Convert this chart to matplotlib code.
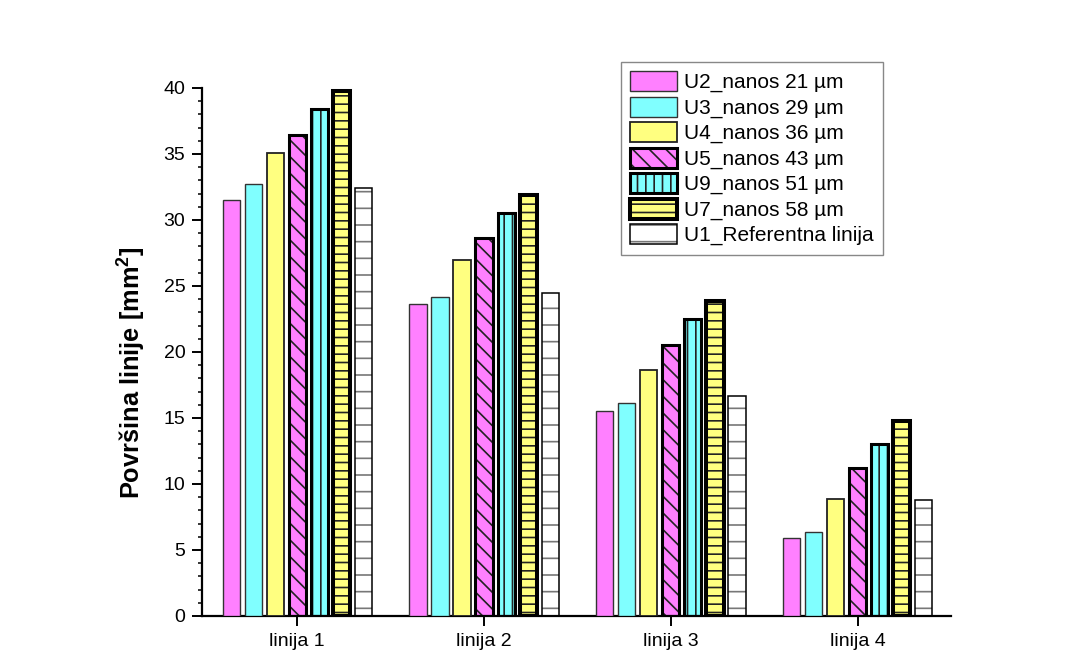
import numpy as np
import matplotlib
matplotlib.use("Agg")
import matplotlib.pyplot as plt
from matplotlib.ticker import MultipleLocator

plt.rcParams["font.family"] = ["Liberation Sans", "DejaVu Sans"]
plt.rcParams["mathtext.fontset"] = "custom"
plt.rcParams["mathtext.rm"] = "Liberation Sans"
plt.rcParams["mathtext.bf"] = "Liberation Sans:bold"
plt.rcParams["hatch.linewidth"] = 1.2

# ---------------------------------------------------------------------------
# Data
# ---------------------------------------------------------------------------
categories = ["linija 1", "linija 2", "linija 3", "linija 4"]
series_names = [
    "U2_nanos 21 µm",
    "U3_nanos 29 µm",
    "U4_nanos 36 µm",
    "U5_nanos 43 µm",
    "U9_nanos 51 µm",
    "U7_nanos 58 µm",
    "U1_Referentna linija",
]
u2 = [31.5, 23.6, 15.5, 5.9]
u3 = [32.7, 24.2, 16.1, 6.4]
u4 = [35.1, 27.0, 18.6, 8.9]
u5 = [36.4, 28.6, 20.5, 11.2]
u9 = [38.4, 30.5, 22.5, 13.0]
u7 = [39.8, 31.9, 23.9, 14.8]
u1_ref = [32.4, 24.5, 16.7, 8.8]

values = [u2, u3, u4, u5, u9, u7, u1_ref]

# style per series: face, edge, edge width, hatch, hatch colour
styles = [
    ("#ff80ff", "#333333", 1.0, None, None),
    ("#80ffff", "#333333", 1.0, None, None),
    ("#ffff80", "#222222", 1.3, None, None),
    ("#ff80ff", "black", 2.2, "\\\\", "#222222"),
    ("#80ffff", "black", 2.2, "||", "#222222"),
    ("#ffff80", "black", 2.9, "--", "#222222"),
    ("white", "black", 1.1, "-", "#777777"),
]

# ---------------------------------------------------------------------------
# Plot
# ---------------------------------------------------------------------------
fig = plt.figure(figsize=(10.89, 6.70), dpi=100)
ax = fig.add_axes([0.1855, 0.0806, 0.6878, 0.7881])

x = np.arange(1, len(categories) + 1)
pitch = 0.118
width = 0.092
n = len(values)

handles = []
for i, (vals, name, st) in enumerate(zip(values, series_names, styles)):
    face, edge, lw, hatch, hcol = st
    pos = x + (i - (n - 1) / 2) * pitch
    if hatch:
        # hatch drawn with its own colour, outline drawn on top
        ax.bar(pos, vals, width, color=face, edgecolor=hcol, linewidth=0,
               hatch=hatch, zorder=2)
        ax.bar(pos, vals, width, facecolor="none", edgecolor=edge,
               linewidth=lw, zorder=3)
        h = plt.Rectangle((0, 0), 1, 1, facecolor=face, edgecolor=hcol,
                          hatch=hatch, linewidth=0)
        h2 = plt.Rectangle((0, 0), 1, 1, facecolor="none", edgecolor=edge,
                           linewidth=lw)
        handles.append((h, h2))
    else:
        ax.bar(pos, vals, width, color=face, edgecolor=edge, linewidth=lw,
               zorder=3)
        handles.append(plt.Rectangle((0, 0), 1, 1, facecolor=face,
                                     edgecolor=edge, linewidth=lw))

ax.set_xlim(0.49, 4.5)
ax.set_ylim(0, 40)
ax.set_xticks(x)
ax.set_xticklabels(categories, fontsize=14)
ax.yaxis.set_major_locator(MultipleLocator(5))
ax.yaxis.set_minor_locator(MultipleLocator(1))
ax.tick_params(axis="y", labelsize=14)
ax.tick_params(which="major", direction="out", length=7, width=1.4, pad=5)
ax.tick_params(which="minor", direction="out", length=3, width=1.1)
ax.tick_params(axis="x", which="minor", bottom=False)

for side in ["top", "right"]:
    ax.spines[side].set_visible(False)
for side in ["left", "bottom"]:
    ax.spines[side].set_linewidth(1.6)

ax.set_ylabel(r"Površina linije [mm$^{\mathbf{2}}$]", fontsize=18.3,
              fontweight="bold")
ax.yaxis.set_label_coords(-0.072, 0.46)

leg = fig.legend(handles, series_names, loc="upper left",
                 bbox_to_anchor=(0.570, 0.908), fontsize=15,
                 handlelength=2.25, handleheight=1.1, labelspacing=0.2,
                 handletextpad=0.35, borderpad=0.45, borderaxespad=0,
                 fancybox=False, frameon=True, edgecolor="#888888",
                 framealpha=1)
leg.get_frame().set_linewidth(1.0)

fig.savefig("out.png", dpi=100, facecolor="white")
